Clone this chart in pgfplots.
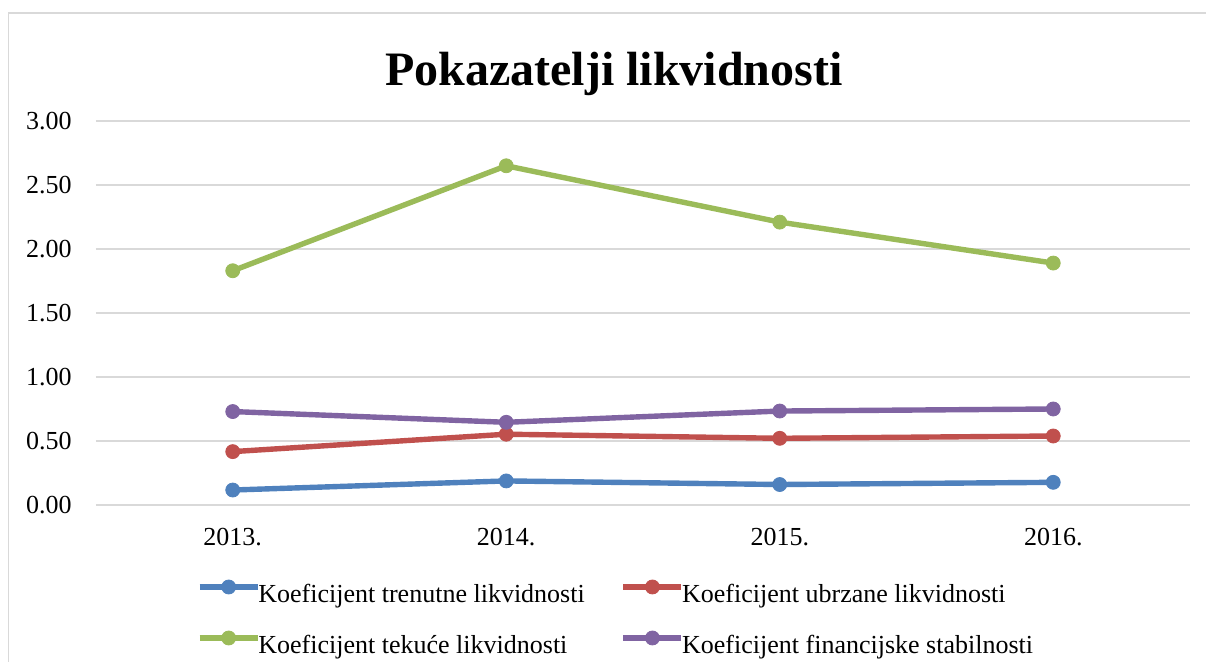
\documentclass[border=0pt]{standalone}
\usepackage{fontspec}
\setmainfont{Liberation Serif}
\usepackage{pgfplots}
\pgfplotsset{compat=1.18}
\definecolor{cblue}{HTML}{4F81BD}
\definecolor{cred}{HTML}{C0504D}
\definecolor{cgreen}{HTML}{9BBB59}
\definecolor{cpurple}{HTML}{8064A2}
\definecolor{gridgray}{HTML}{D9D9D9}
\begin{document}
\begin{tikzpicture}
\useasboundingbox (-48pt,-78.5pt) rectangle (555pt,252.5pt);
\draw[color=gridgray, line width=0.8pt] (-43.75pt,-80pt) -- (-43.75pt,246pt) -- (556pt,246pt);
\node[anchor=base, font=\fontsize{24}{28}\selectfont\bfseries] at (259pt,209.5pt) {Pokazatelji likvidnosti};
\begin{axis}[
  at={(0pt,0pt)}, anchor=south west,
  scale only axis, width=547pt, height=192pt,
  xmin=-0.5, xmax=3.5, ymin=0, ymax=3,
  xtick={0,1,2,3}, xticklabels={2013.,2014.,2015.,2016.},
  ytick={0,0.5,1,1.5,2,2.5,3},
  y tick label style={/pgf/number format/fixed, /pgf/number format/fixed zerofill, /pgf/number format/precision=2, /pgf/number format/assume math mode=true},
  ymajorgrids, grid style={gridgray, line width=0.75pt},
  axis line style={draw=none}, major tick length=0pt,
  tick label style={font=\fontsize{13}{15.6}\selectfont, inner sep=0pt},
  yticklabel style={anchor=east, xshift=-12pt},
  xticklabel style={anchor=north, yshift=-11.5pt},
  clip=false,
  legend columns=2,
  legend cell align=left,
  legend style={at={(0.0923,-0.1953)}, anchor=north west, draw=none, fill=none,
    inner sep=0pt, outer sep=0pt, row sep=13pt,
    font=\fontsize{13}{15.6}\selectfont,
    nodes={inner sep=0pt, text height=9pt, text depth=1pt, anchor=west},
    /tikz/every odd column/.append style={column sep=-1pt},
    /tikz/every even column/.append style={column sep=18pt}},
  legend image code/.code={\draw[#1, mark repeat=2, mark phase=2] plot coordinates {(0pt,4pt) (14.5pt,4pt) (29pt,4pt)};},
  every axis plot/.append style={line width=2.7pt, mark=*, mark size=3.5pt, line join=round},
]
\addplot[cblue, mark options={fill=cblue, draw=cblue, line width=0.4pt}] coordinates {(0,0.117) (1,0.188) (2,0.160) (3,0.177)};
\addlegendentry{Koeficijent trenutne likvidnosti}
\addplot[cred, mark options={fill=cred, draw=cred, line width=0.4pt}] coordinates {(0,0.417) (1,0.553) (2,0.521) (3,0.539)};
\addlegendentry{Koeficijent ubrzane likvidnosti}
\addplot[cgreen, mark options={fill=cgreen, draw=cgreen, line width=0.4pt}] coordinates {(0,1.83) (1,2.65) (2,2.21) (3,1.89)};
\addlegendentry{Koeficijent teku\'{c}e likvidnosti}
\addplot[cpurple, mark options={fill=cpurple, draw=cpurple, line width=0.4pt}] coordinates {(0,0.730) (1,0.646) (2,0.734) (3,0.750)};
\addlegendentry{Koeficijent financijske stabilnosti}
\end{axis}
\end{tikzpicture}
\end{document}
